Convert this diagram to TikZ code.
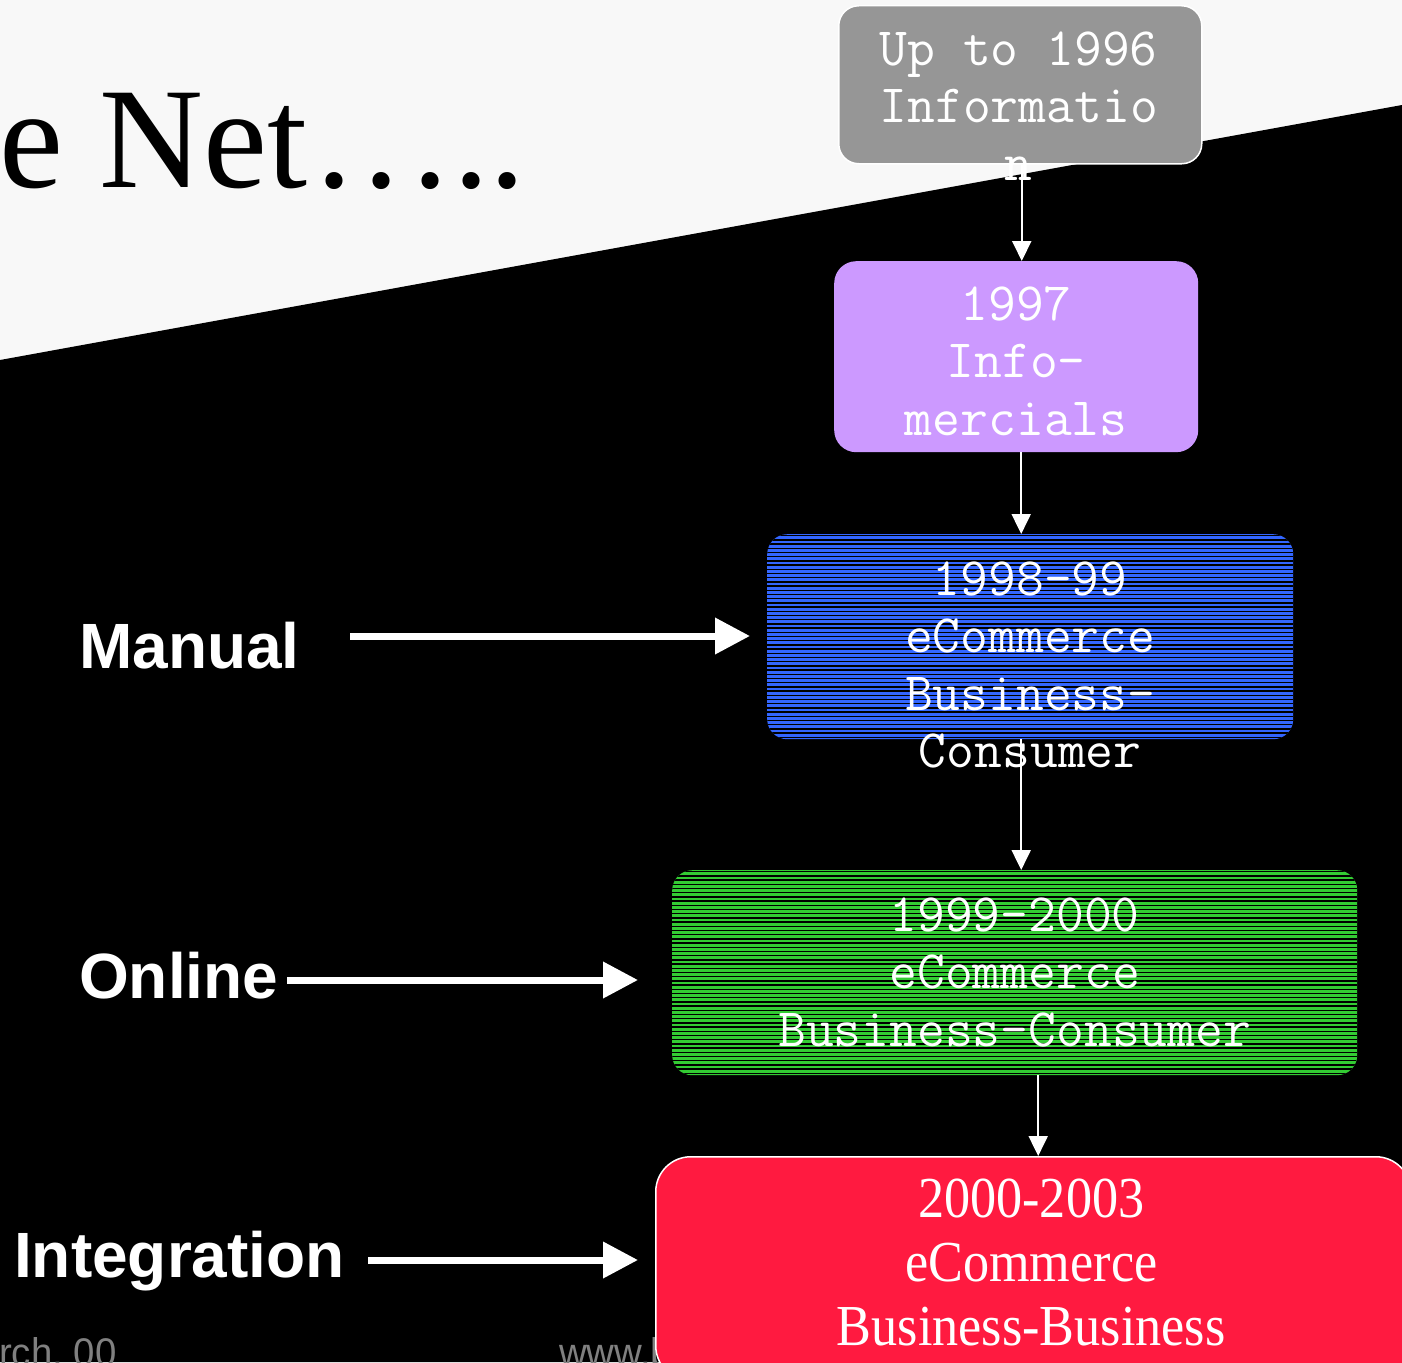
\documentclass[tikz,border=0pt]{standalone}
\usepackage{fontspec}
\setmainfont{Liberation Serif}
\newfontfamily\labelfont{Liberation Sans}
\newfontfamily\condserif[FakeStretch=0.9]{Liberation Serif}
\newfontfamily\footfont[FakeStretch=0.96]{Liberation Sans}
\usetikzlibrary{arrows.meta}

\definecolor{paper}{RGB}{248,248,248}
\definecolor{boxgray}{RGB}{150,150,150}
\definecolor{boxpurple}{RGB}{204,153,255}
\definecolor{boxblue}{RGB}{51,102,255}
\definecolor{boxgreen}{RGB}{51,204,51}
\definecolor{boxred}{RGB}{255,26,64}
\definecolor{footgray}{RGB}{128,128,128}

\begin{document}
\begin{tikzpicture}[x=1pt,y=-1pt,
  stage/.style={rectangle, inner sep=0pt, anchor=north west},
  striped/.style={path picture={
      \foreach \i in {0,...,52}{
        \draw[black, line width=1.3pt]
          ([yshift=-\i*4.2pt-1.5pt]path picture bounding box.north west) --
          ([yshift=-\i*4.2pt-1.5pt]path picture bounding box.north east);
      }}},
  monotext/.style={text=white, inner sep=0pt, anchor=north, align=center,
      font=\fontsize{54}{57.5}\selectfont\ttfamily},
  serifbox/.style={text=white, inner sep=0pt, anchor=north, align=center,
      font=\fontsize{58}{64}\selectfont\condserif},
  sidelabel/.style={text=white, inner sep=0pt, anchor=base west,
      font=\fontsize{64}{70}\selectfont\labelfont\bfseries},
  foot/.style={text=footgray, inner sep=0pt, anchor=base west,
      font=\fontsize{40}{44}\selectfont\footfont},
  flow/.style={draw=white, line width=2pt, -{Triangle[length=20pt,width=19pt]}},
  bigarrow/.style={draw=white, line width=7pt, -{Triangle[length=35pt,width=35pt]}}
]
\useasboundingbox (0,0) rectangle (1402,1362);
\clip (0,0) rectangle (1402,1362);

% slide background: light top, black wedge below the slanted edge
\fill[paper] (0,0) rectangle (1402,1362);
\fill[black] (0,360) -- (1402,105) -- (1402,1362) -- (0,1362) -- cycle;

% title
\node[inner sep=0pt, anchor=base west, font=\fontsize{144}{150}\selectfont]
  (title) at (-1,187) {e Net\kern9pt.\kern12pt.\kern12pt.\kern6pt..};

% footer
\node[foot] (footl) at (-1,1366) {rch, 00};
\node[foot] (footr) at (559,1366) {www.b};

% stage boxes
\node[stage, fill=boxgray, draw=white, line width=1.5pt, rounded corners=20pt,
      minimum width=363pt, minimum height=158pt] (b96) at (838,5) {};
\node[stage, fill=boxpurple, rounded corners=22pt,
      minimum width=364pt, minimum height=191pt] (b97) at (834,261) {};
\node[stage, fill=boxblue, striped, rounded corners=20pt,
      minimum width=526pt, minimum height=205pt] (b98) at (767,534) {};
\node[stage, fill=boxgreen, striped, rounded corners=20pt,
      minimum width=685pt, minimum height=205pt] (b99) at (672,870) {};

% flow connectors
\draw[flow] ([xshift=1.5pt]b96.south) -- ([xshift=1.5pt]b96.south |- b97.north);
\draw[flow] ([xshift=5pt]b97.south) -- ([xshift=5pt]b97.south |- b98.north);
\draw[flow] ([xshift=-9pt]b98.south) -- ([xshift=-9pt]b98.south |- b99.north);
\draw[flow] ([xshift=23.5pt]b99.south) coordinate (gs) -- (gs |- 0,1156);

\node[stage, fill=boxred, draw=white, line width=1.5pt, rounded corners=35pt,
      minimum width=755pt, minimum height=224pt] (b00) at (655,1156) {};

% box texts
\node[monotext] (t96) at ([yshift=-19.75pt,xshift=-1.5pt]b96.north)
  {\strut Up to 1996\\Informatio\\n};
\node[monotext] (t97) at ([yshift=-18.75pt]b97.north)
  {\strut 1997\\Info-\\mercials};
\node[monotext] (t98) at ([yshift=-20.75pt]b98.north)
  {\strut 1998-99\\eCommerce\\Business-\\Consumer};
\node[monotext] (t99) at ([yshift=-20.75pt]b99.north)
  {\strut 1999-2000\\eCommerce\\Business-Consumer};
\node[serifbox] (t00) at ([yshift=-16.2pt,xshift=-2pt]b00.north)
  {\strut 2000-2003\\eCommerce\\Business-Business};

% side labels and their arrows
\node[sidelabel] (manual) at (79,668) {Manual};
\node[sidelabel] (online) at (79,998) {Online};
\node[sidelabel] (integ) at (14,1277) {Integration};

\coordinate (mtail) at (350,636);
\coordinate (otail) at (287,980);
\coordinate (itail) at (368,1260);
\draw[bigarrow, shorten >=17pt] (mtail) -- (mtail -| b98.west);
\draw[bigarrow, shorten >=34pt] (otail) -- (otail -| b99.west);
\draw[bigarrow, shorten >=17pt] (itail) -- (itail -| b00.west);
\end{tikzpicture}
\end{document}
